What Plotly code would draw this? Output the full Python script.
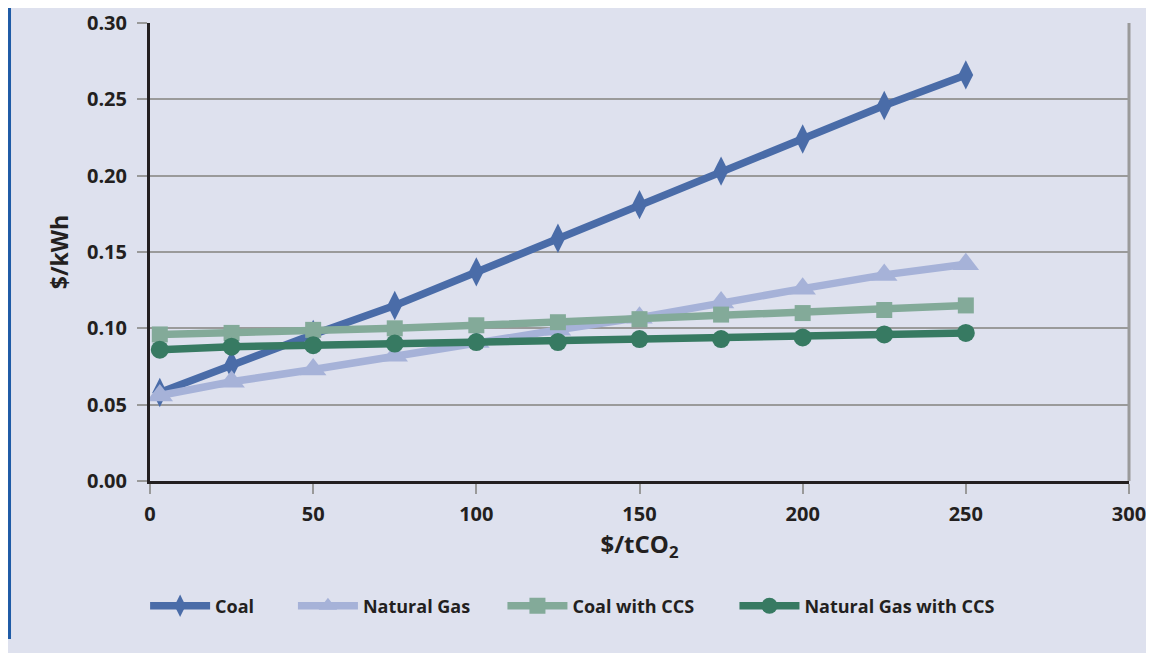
import plotly.graph_objects as go

carbon_price = [3, 25, 50, 75, 100, 125, 150, 175, 200, 225, 250]
coal = [0.058, 0.076, 0.096, 0.115, 0.137, 0.159, 0.181, 0.203, 0.224, 0.246, 0.266]
natural_gas = [0.056, 0.065, 0.073, 0.082, 0.091, 0.099, 0.107, 0.117, 0.126, 0.135, 0.142]
coal_ccs = [0.096, 0.097, 0.099, 0.100, 0.102, 0.104, 0.106, 0.109, 0.110, 0.112, 0.115]
ng_ccs = [0.086, 0.088, 0.089, 0.090, 0.091, 0.091, 0.093, 0.093, 0.094, 0.096, 0.097]

series = [
    ("Coal", coal, "#4a6ca8", "diamond-tall", 21),
    ("Natural Gas", natural_gas, "#a6b2d8", "triangle-up", 23),
    ("Coal with CCS", coal_ccs, "#83aa99", "square", 16),
    ("Natural Gas with CCS", ng_ccs, "#377a62", "circle", 18),
]
legend_ids = ["legend", "legend2", "legend3", "legend4"]
legend_x = [-0.005, 0.146, 0.36, 0.597]

bg = "#dee1ee"
fig = go.Figure()
for (name, vals, color, sym, size), lid in zip(series, legend_ids):
    fig.add_trace(go.Scatter(
        x=carbon_price, y=vals, name=name, mode="lines+markers",
        line=dict(color=color, width=7.5),
        marker=dict(symbol=sym, size=size, color=color),
        legend=lid,
    ))

legfont = dict(family="Open Sans", size=18, color="#231f20", weight="bold")
legends = {}
for lid, lx in zip(legend_ids, legend_x):
    legends[lid] = dict(orientation="h", x=lx, xanchor="left", y=-0.273, yanchor="middle",
                        font=legfont, bgcolor="rgba(0,0,0,0)", itemwidth=60)

tickfont = dict(family="Open Sans", size=20, color="#231f20", weight="bold")
fig.update_layout(
    width=1146, height=645,
    paper_bgcolor=bg, plot_bgcolor=bg,
    margin=dict(l=142, r=25, t=15, b=172, autoexpand=False),
    showlegend=True,
    **legends,
    xaxis=dict(range=[0, 300], tickvals=[0, 50, 100, 150, 200, 250, 300],
               showgrid=False, zeroline=False, showline=True, linecolor="#231f20", linewidth=3,
               ticks="outside", ticklen=10, tickcolor="#999999", tickwidth=2,
               tickfont=tickfont, ticklabelstandoff=3,
               title=dict(text="$/tCO<sub>2</sub>", font=dict(family="Open Sans", size=24, color="#231f20", weight="bold"), standoff=6)),
    yaxis=dict(range=[0, 0.30], tickvals=[0, 0.05, 0.10, 0.15, 0.20, 0.25, 0.30],
               tickformat=".2f",
               showgrid=True, gridcolor="#9a9a9a", gridwidth=1.5, zeroline=False,
               showline=True, linecolor="#231f20", linewidth=3,
               ticks="outside", ticklen=10, tickcolor="#999999", tickwidth=2,
               tickfont=tickfont, ticklabelstandoff=6,
               title=dict(text="$/kWh", font=dict(family="Open Sans", size=23, color="#231f20", weight="bold"), standoff=12)),
    shapes=[
        dict(type="line", xref="paper", yref="paper", x0=1, x1=1, y0=0, y1=1,
             line=dict(color="#9a9a9a", width=3)),
        dict(type="line", xref="paper", yref="paper", x0=-0.1435, x1=-0.1435, y0=-0.345, y1=1.033,
             line=dict(color="#1f5ba6", width=3)),
    ],
)
fig.write_html("out.html")
